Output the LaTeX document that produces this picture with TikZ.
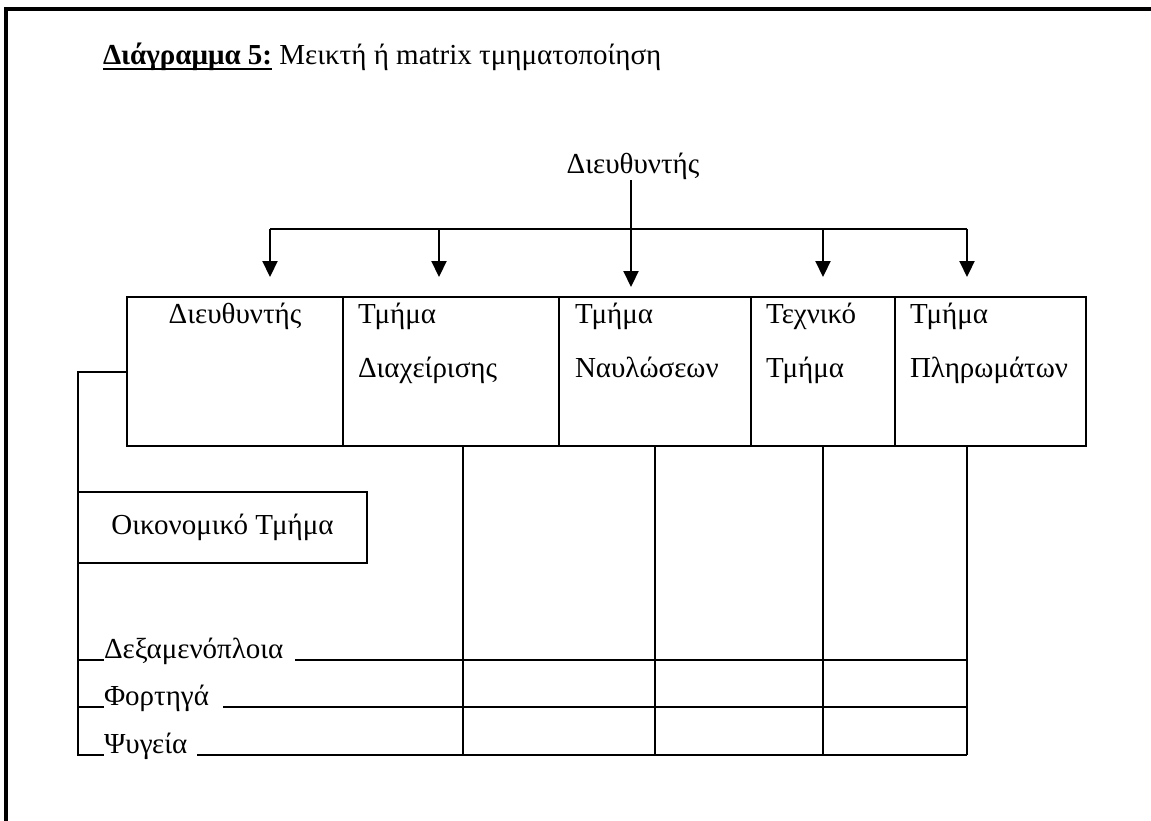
\documentclass[tikz,border=0pt]{standalone}
\usepackage{fontspec}
\setmainfont{Liberation Serif}
\usetikzlibrary{arrows.meta}
% text with a solid rule under it
\newcommand{\ulined}[1]{{\setbox0\hbox{#1}\rlap{\rule[-4.6pt]{\wd0}{1.9pt}}\box0}}
\begin{document}
\begin{tikzpicture}[x=1pt,y=-1pt,
  every node/.style={font=\fontsize{29}{54}\selectfont, inner sep=0pt, outer sep=0pt},
  frameline/.style={line width=4pt, line join=miter},
  boxline/.style={draw, line width=2.3pt},
  rule/.style={line width=2pt},
  down/.style={line width=2.2pt, -{Triangle[width=15pt,length=16pt]}},
  lbl/.style={anchor=base west},
]
\useasboundingbox (0,0) rectangle (1151,821);
\fill[white] (0,0) rectangle (1151,821);

% page frame (top and left edges)
\draw[frameline] (5.7,821) -- (5.7,9.3) -- (1151,9.3);

% caption
\node[lbl] (title) at (103,65)
  {\ulined{\textbf{Διάγραμμα 5:}} Μεικτή ή matrix τμηματοποίηση};

% head of the organisation and distribution bar
\node[anchor=base] (dir) at (633,174) {Διευθυντής};
\coordinate (barL) at (270,229);
\coordinate (barR) at (967,229);
\draw[rule] (barL) -- (barR);

% row of departments
\node[boxline, minimum width=216, minimum height=149] (b1) at (235,371.5) {};
\node[boxline, minimum width=216, minimum height=149] (b2) at (451,371.5) {};
\node[boxline, minimum width=192, minimum height=149] (b3) at (655,371.5) {};
\node[boxline, minimum width=144, minimum height=149] (b4) at (823,371.5) {};
\node[boxline, minimum width=191, minimum height=149] (b5) at (990.5,371.5) {};

\node[anchor=base] (t1) at (235,323) {Διευθυντής};
\node[lbl] (t2a) at (358,323) {Τμήμα};
\node[lbl] (t2b) at (358,377) {Διαχείρισης};
\node[lbl] (t3a) at (575,323) {Τμήμα};
\node[lbl] (t3b) at (575,377) {Ναυλώσεων};
\node[lbl] (t4a) at (766,323) {Τεχνικό};
\node[lbl] (t4b) at (766,377) {Τμήμα};
\node[lbl] (t5a) at (910,323) {Τμήμα};
\node[lbl] (t5b) at (910,377) {Πληρωμάτων};

% arrows from the bar to the departments
\coordinate (a1) at (270,277);
\coordinate (a2) at (439,277);
\coordinate (a3) at (631,287);
\coordinate (a4) at (823,277);
\coordinate (a5) at (967,277);
\draw[down] (barL) -- (a1);
\draw[down] (a2 |- barL) -- (a2);
\draw[down] (dir.south -| a3) -- (a3);
\draw[down] (a4 |- barL) -- (a4);
\draw[down] (barR) -- (a5);

% finance department
\node[boxline, minimum width=289, minimum height=71] (fin) at (222.5,527.5) {Οικονομικό Τμήμα};

% fleet categories
\node[lbl] (r1) at (104,658) {Δεξαμενόπλοια};
\node[lbl] (r2) at (104,705) {Φορτηγά};
\node[lbl] (r3) at (104,753) {Ψυγεία};

\coordinate (L1) at (78,660);
\coordinate (L2) at (78,707);
\coordinate (L3) at (78,755);
\coordinate (v1) at (463,755);
\coordinate (v2) at (655,755);
\coordinate (v3) at (823,755);
\coordinate (v4) at (967,755);

% matrix grid
\draw[rule] (b1.west) -| (L3) -- (L3 -| r3.west);
\draw[rule] (L1) -- (L1 -| r1.west);
\draw[rule] (L2) -- (L2 -| r2.west);
\draw[rule] ([xshift=12pt]r1.east |- L1) -- (v4 |- L1);
\draw[rule] ([xshift=14pt]r2.east |- L2) -- (v4 |- L2);
\draw[rule] ([xshift=10pt]r3.east |- L3) -- (v4);
\draw[rule] (b2.south -| v1) -- (v1);
\draw[rule] (b3.south -| v2) -- (v2);
\draw[rule] (b4.south -| v3) -- (v3);
\draw[rule] (b5.south -| v4) -- (v4);
\end{tikzpicture}
\end{document}
